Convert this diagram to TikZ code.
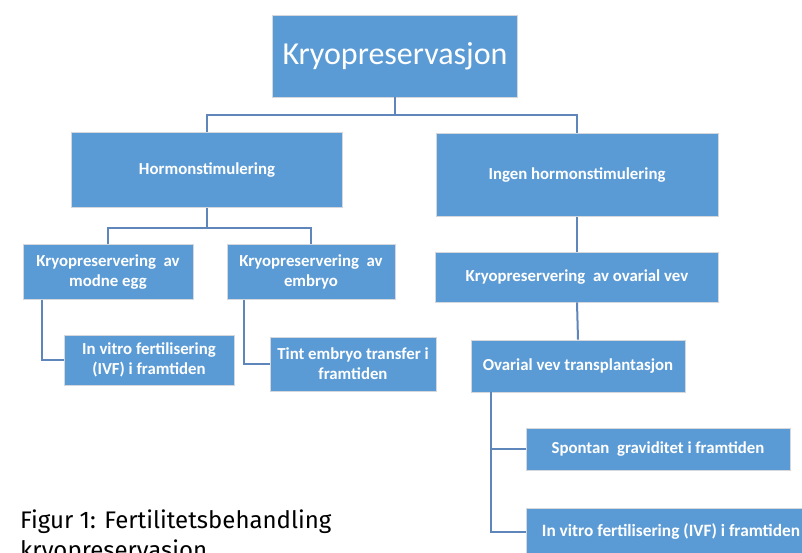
\documentclass[tikz,border=0pt]{standalone}
\usepackage{fontspec}
\setmainfont{Carlito}
\newfontfamily\capfont{Fira Sans}
\usepackage{tikz}
\usetikzlibrary{positioning,calc}
\definecolor{BoxBlue}{HTML}{5B9BD5}
\definecolor{LinkBlue}{HTML}{5F86BA}
\definecolor{BoxEdge}{HTML}{D4D8DD}

\begin{document}
\begin{tikzpicture}[
  x=1pt,y=-1pt,
  box/.style={draw=BoxEdge,line width=0.8pt,fill=BoxBlue,text=white,align=center,
    inner sep=2pt,font=\bfseries\fontsize{16.8}{20}\selectfont},
  link/.style={draw=LinkBlue,line width=2pt},
  caption/.style={anchor=base west,inner sep=0pt,font=\capfont\fontsize{24}{30}\selectfont}
]
  \useasboundingbox (0,0) rectangle (802,552);
  \clip (0,0) rectangle (802,552);

  % top level
  \node[box,minimum width=245pt,minimum height=82pt,font=\mdseries\fontsize{32}{36}\selectfont] (kryo) at (395,56) {Kryopreservasjon};

  % second level
  \node[box,minimum width=271pt,minimum height=75pt] (hormon) at (207,170) {Hormonstimulering};
  \node[box,minimum width=282pt,minimum height=83pt] (ingen) at (577,175) {Ingen hormonstimulering};

  % hormone branch
  \node[box,minimum width=170pt,minimum height=55pt] (egg) at (108,272) {Kryopreservering~~av\\modne egg};
  \node[box,minimum width=168pt,minimum height=55pt] (embryo) at (311,272) {Kryopreservering~~av\\embryo};
  \node[box,minimum width=170pt,minimum height=50pt] (ivf) at (149,360) {In vitro fertilisering\\(IVF) i framtiden};
  \node[box,minimum width=166pt,minimum height=54pt] (tint) at (353,364) {Tint embryo transfer i\\framtiden};

  % no hormone branch
  \node[box,minimum width=283pt,minimum height=50pt] (vev) at (577,277) {Kryopreservering~~av ovarial vev};
  \node[box,minimum width=214pt,minimum height=52pt] (transpl) at (578,366) {Ovarial vev transplantasjon};
  \node[box,minimum width=264pt,minimum height=42pt] (spontan) at (658,449) {Spontan~~graviditet i framtiden};
  \node[box,minimum width=290pt,minimum height=48pt,font=\bfseries\fontsize{17.3}{20}\selectfont] (ivfb) at (671,532) {In vitro fertilisering (IVF) i framtiden};

  % connectors
  \draw[link] (kryo.south) -- ++(0,18) coordinate (split1) -| (hormon.north);
  \draw[link] (split1) -| (ingen.north);
  \draw[link] (hormon.south) -- ++(0,20) coordinate (split2) -| (egg.north);
  \draw[link] (split2) -| (embryo.north);
  \draw[link] ([xshift=19pt]egg.south west) |- (ivf.west);
  \draw[link] ([xshift=17pt]embryo.south west) |- (tint.west);
  \draw[link] (ingen.south) -- (vev.north);
  \draw[link] (vev.south) -- (transpl.north);
  \draw[link] ([xshift=20pt]transpl.south west) |- (spontan.west);
  \draw[link] ([xshift=20pt]transpl.south west) |- (ivfb.west);

  % caption
  \node[caption] (cap1) at (20,528) {Figur 1: Fertilitetsbehandling};
  \node[caption] (cap2) at (20,558) {kryopreservasjon};
\end{tikzpicture}
\end{document}
